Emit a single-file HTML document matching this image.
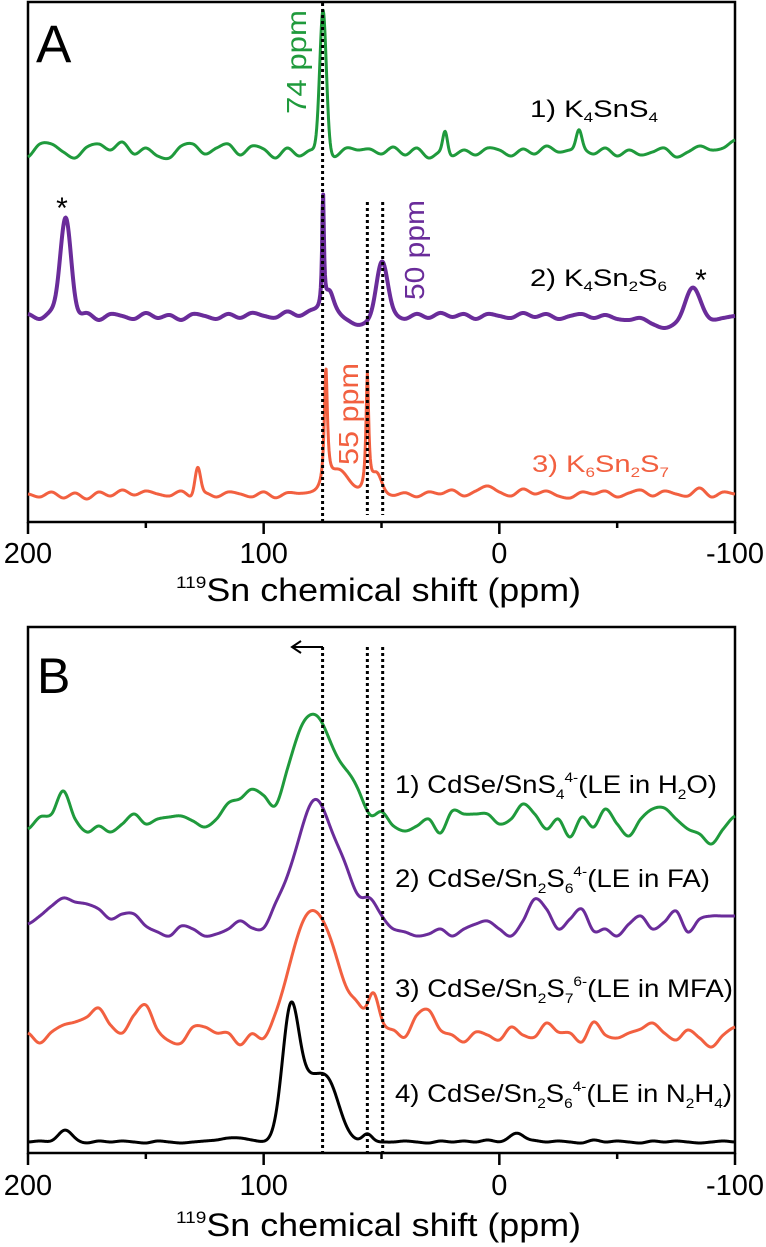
<!DOCTYPE html>
<html><head><meta charset="utf-8"><style>
html,body{margin:0;padding:0;background:#fff;}
svg{display:block;font-family:"Liberation Sans",Arial,sans-serif;}
</style></head><body>
<svg id="fig" width="766" height="1247" viewBox="0 0 766 1247" xmlns="http://www.w3.org/2000/svg">
<g id="panelA">
  <rect x="28" y="2" width="707" height="520" fill="none" stroke="#000" stroke-width="2.5"/>
  <text x="36" y="62" font-size="53">A</text>
  <g id="axisA"></g>
  <text x="176" y="601" font-size="32" textLength="405" lengthAdjust="spacingAndGlyphs"><tspan font-size="17" dy="-13">119</tspan><tspan dy="13">Sn chemical shift (ppm)</tspan></text>
  <g id="tracesA"></g>
  <text x="530" y="117" font-size="24" textLength="128" lengthAdjust="spacingAndGlyphs">1) K<tspan font-size="14" dy="5">4</tspan><tspan dy="-5">SnS</tspan><tspan font-size="14" dy="5">4</tspan></text>
  <text x="530" y="286" font-size="24" textLength="137" lengthAdjust="spacingAndGlyphs">2) K<tspan font-size="14" dy="5">4</tspan><tspan dy="-5">Sn</tspan><tspan font-size="14" dy="5">2</tspan><tspan dy="-5">S</tspan><tspan font-size="14" dy="5">6</tspan></text>
  <text x="532" y="472" font-size="24" fill="#f26040" textLength="137" lengthAdjust="spacingAndGlyphs">3) K<tspan font-size="14" dy="5">6</tspan><tspan dy="-5">Sn</tspan><tspan font-size="14" dy="5">2</tspan><tspan dy="-5">S</tspan><tspan font-size="14" dy="5">7</tspan></text>
  <text transform="translate(306,114) rotate(-90)" font-size="28" fill="#1f9a3c" textLength="104" lengthAdjust="spacingAndGlyphs">74 ppm</text>
  <text transform="translate(424,300) rotate(-90)" font-size="28" fill="#6a2c9a" textLength="100" lengthAdjust="spacingAndGlyphs">50 ppm</text>
  <text transform="translate(358,465) rotate(-90)" font-size="28" fill="#f26040" textLength="102" lengthAdjust="spacingAndGlyphs">55 ppm</text>
  <text x="62" y="218" font-size="30" text-anchor="middle">*</text>
  <text x="701" y="290" font-size="30" text-anchor="middle">*</text>
</g>
<g id="panelB">
  <rect x="28" y="627" width="707" height="526" fill="none" stroke="#000" stroke-width="2.5"/>
  <text x="37" y="693" font-size="50">B</text>
  <g id="axisB"></g>
  <text x="176" y="1236" font-size="32" textLength="405" lengthAdjust="spacingAndGlyphs"><tspan font-size="17" dy="-13">119</tspan><tspan dy="13">Sn chemical shift (ppm)</tspan></text>
  <g id="tracesB"></g>
  <path d="M323 647 H293 M301 641 L292 647 L301 653" fill="none" stroke="#000" stroke-width="2"/>
  <text x="395" y="793" font-size="25" textLength="322" lengthAdjust="spacingAndGlyphs">1) CdSe/SnS<tspan font-size="14" dy="6">4</tspan><tspan font-size="14" dy="-17">4-</tspan><tspan dy="11">(LE in H</tspan><tspan font-size="14" dy="6">2</tspan><tspan dy="-6">O)</tspan></text>
  <text x="395" y="887" font-size="25" textLength="315" lengthAdjust="spacingAndGlyphs">2) CdSe/Sn<tspan font-size="14" dy="6">2</tspan><tspan dy="-6">S</tspan><tspan font-size="14" dy="6">6</tspan><tspan font-size="14" dy="-17">4-</tspan><tspan dy="11">(LE in FA)</tspan></text>
  <text x="395" y="997" font-size="25" textLength="338" lengthAdjust="spacingAndGlyphs">3) CdSe/Sn<tspan font-size="14" dy="6">2</tspan><tspan dy="-6">S</tspan><tspan font-size="14" dy="6">7</tspan><tspan font-size="14" dy="-17">6-</tspan><tspan dy="11">(LE in MFA)</tspan></text>
  <text x="395" y="1102" font-size="25" textLength="337" lengthAdjust="spacingAndGlyphs">4) CdSe/Sn<tspan font-size="14" dy="6">2</tspan><tspan dy="-6">S</tspan><tspan font-size="14" dy="6">6</tspan><tspan font-size="14" dy="-17">4-</tspan><tspan dy="11">(LE in N</tspan><tspan font-size="14" dy="6">2</tspan><tspan dy="-6">H</tspan><tspan font-size="14" dy="6">4</tspan><tspan dy="-6">)</tspan></text>
</g>
</svg>
<script>
// ---- axis data ----
const majorTicks = [200, 100, 0, -100];
const minorTicks = [150, 50, -50];
const tickLabels = ["200", "100", "0", "-100"];
const refLinesA = [75, 56, 49.5];
const refLinesB = [75, 56, 49.5];
// ---- noise baselines, sampled every 5 ppm from 200 to -100 (61 values) ----
const noiseA1 = [-5,8,8,0,-6,5,8,2,10,-2,4,-4,-6,6,8,-2,4,8,-3,6,3,-6,4,-4,2,0,-5,4,2,3,-2,5,-3,4,-6,0,-4,2,-3,4,2,-4,3,-2,6,0,2,3,-2,4,-4,2,-3,0,4,-5,0,6,2,4,12];
const noiseA2 = [2,-3,4,0,-2,3,-4,2,0,-3,3,-2,1,-4,2,0,-3,2,-2,3,0,-2,4,-1,3,0,-2,-6,-10,-6,-2,0,-3,2,-2,3,-1,2,-3,2,0,-2,3,-1,2,-3,0,2,-2,1,-3,-4,-2,-8,-12,-8,-2,0,-4,-2,0];
const noiseA3 = [0,-3,2,-4,1,-5,2,-2,4,-1,3,0,-2,3,-4,1,-3,2,0,-3,2,-4,1,0,0,0,0,0,0,0,0,-2,1,-3,2,0,4,-2,3,8,2,-2,5,0,3,-2,-4,2,0,3,-3,1,4,-2,3,0,-2,6,-3,2,0];
const noiseB1 = [0,12,15,38,10,-3,3,-3,5,15,5,10,12,13,8,2,10,26,30,38,26,0,5,5,0,0,0,0,0,0,15,3,-2,3,10,-4,18,15,15,15,5,10,25,15,0,10,-8,12,2,20,5,-7,10,20,21,10,0,-5,-15,0,13];
const noiseB2 = [0,8,18,26,22,20,15,5,10,10,-2,-8,-12,-2,-5,-12,-10,-5,3,-5,-10,0,0,0,0,0,0,0,0,0,3,-5,-8,-12,-10,-5,-12,-5,0,3,-5,-12,3,25,15,-5,5,15,-7,-5,-12,0,8,-5,2,13,-8,5,8,8,8];
const noiseB3 = [2,-8,3,10,13,18,27,10,2,20,30,5,-6,-8,8,8,2,2,-10,0,-10,-3,0,0,0,0,0,0,0,0,5,5,-2,20,25,5,0,-7,3,0,-5,8,0,-2,12,3,2,-7,13,0,-3,2,6,12,2,-5,5,-3,-12,0,8];
const noiseB4 = [0,1,0,2,0,-1,1,0,1,0,-1,1,0,-1,0,1,2,4,4,2,0,0,0,0,0,0,0,0,0,0,0,0,1,0,-1,1,0,1,0,2,0,1,-1,1,0,1,0,-1,2,0,1,0,-1,1,0,1,0,-1,0,1,0];
// ---- peaks: [center ppm, height, width] ----
const peaksA1 = [[74.8,142,1.4,'g'],[23,22,1.0,'g'],[-33.8,19,1.2,'g']];
const peaksA2 = [[184,99,2.3,'g'],[74.8,112,0.45,'l'],[72,24,2.5,'l'],[49.8,56,2.4,'g'],[-82,29,3.0,'g']];
const peaksA3 = [[73.6,118,0.8,'l'],[68,22,4,'g'],[56,118,0.7,'l'],[52,18,2,'g'],[128,29,1.2,'g']];
const peaksB1 = [[79,115,9,'g'],[62,30,5,'g']];
const peaksB2 = [[77,100,6,'g'],[86,45,7,'g'],[66,45,5,'g'],[55,22,3,'g']];
const peaksB3 = [[81,115,8,'g'],[70,40,6,'g'],[60,18,3,'g'],[53.5,38,2.3,'g']];
const peaksB4 = [[88.5,132,3.6,'g'],[81,40,4,'g'],[73,60,5,'g'],[56,8,2,'g'],[184,10,3,'g'],[-8,9,3,'g']];

const NS = "http://www.w3.org/2000/svg";
const X0 = 28, X1 = 735;
function xScale(p){ return X0 + (200 - p) * (X1 - X0) / 300; }
function noiseAt(arr, p){
  const t = (200 - p) / 5; let i = Math.floor(t); if (i >= arr.length - 1) i = arr.length - 2;
  const f = t - i;
  const p0 = arr[Math.max(i-1,0)], p1 = arr[i], p2 = arr[i+1], p3 = arr[Math.min(i+2,arr.length-1)];
  return 0.5*((2*p1)+(-p0+p2)*f+(2*p0-5*p1+4*p2-p3)*f*f+(-p0+3*p1-3*p2+p3)*f*f*f);
}
function signal(peaks, noise, p){
  let v = noiseAt(noise, p);
  for (const pk of peaks){
    const d = (p - pk[0]) / pk[2];
    v += pk[3] === 'l' ? pk[1] / (1 + d*d) : pk[1] * Math.exp(-0.5*d*d);
  }
  return v;
}
function addTrace(group, peaks, noise, base, color, width, name){
  let d = "";
  for (let p = 200; p >= -100.001; p -= 0.25){
    const y = base - signal(peaks, noise, p);
    d += (d ? "L" : "M") + xScale(p).toFixed(2) + " " + y.toFixed(2);
  }
  const path = document.createElementNS(NS, "path");
  path.setAttribute("d", d);
  path.setAttribute("fill", "none");
  path.setAttribute("stroke", color);
  path.setAttribute("stroke-width", width);
  path.setAttribute("stroke-linejoin", "round");
  
  
  group.appendChild(path);
}
function addAxis(group, yAxis, labelY){
  majorTicks.forEach((t, i) => {
    const l = document.createElementNS(NS, "line");
    l.setAttribute("x1", xScale(t)); l.setAttribute("x2", xScale(t));
    l.setAttribute("y1", yAxis); l.setAttribute("y2", yAxis + 12);
    l.setAttribute("stroke", "#000"); l.setAttribute("stroke-width", "2.5");
    
    
    group.appendChild(l);
    const tx = document.createElementNS(NS, "text");
    tx.setAttribute("x", xScale(t)); tx.setAttribute("y", labelY);
    tx.setAttribute("font-size", "29"); tx.setAttribute("text-anchor", "middle");
    tx.textContent = tickLabels[i];
    
    
    group.appendChild(tx);
  });
  minorTicks.forEach(t => {
    const l = document.createElementNS(NS, "line");
    l.setAttribute("x1", xScale(t)); l.setAttribute("x2", xScale(t));
    l.setAttribute("y1", yAxis); l.setAttribute("y2", yAxis + 6);
    l.setAttribute("stroke", "#000"); l.setAttribute("stroke-width", "2.5");
    
    
    group.appendChild(l);
  });
}
function addRef(group, p, y1, y2){
  const l = document.createElementNS(NS, "line");
  l.setAttribute("x1", xScale(p)); l.setAttribute("x2", xScale(p));
  l.setAttribute("y1", y1); l.setAttribute("y2", y2);
  l.setAttribute("stroke", "#000"); l.setAttribute("stroke-width", "3");
  l.setAttribute("stroke-dasharray", "3 3");
  
  
  group.appendChild(l);
}
const gA = document.getElementById("tracesA");
const gB = document.getElementById("tracesB");
addAxis(document.getElementById("axisA"), 522, 563);
addAxis(document.getElementById("axisB"), 1153, 1195);
addTrace(gA, peaksA1, noiseA1, 152, "#1f9a3c", 3, "trace-k4sns4");
addTrace(gA, peaksA2, noiseA2, 316, "#6a2c9a", 4, "trace-k4sn2s6");
addTrace(gA, peaksA3, noiseA3, 494, "#f26040", 3, "trace-k6sn2s7");
addRef(gA, refLinesA[0], 3, 522);
addRef(gA, refLinesA[1], 202, 515);
addRef(gA, refLinesA[2], 202, 515);
addTrace(gB, peaksB1, noiseB1, 829, "#1f9a3c", 3, "trace-b1-h2o");
addTrace(gB, peaksB2, noiseB2, 924, "#6a2c9a", 3, "trace-b2-fa");
addTrace(gB, peaksB3, noiseB3, 1035, "#f26040", 3, "trace-b3-mfa");
addTrace(gB, peaksB4, noiseB4, 1142, "#000000", 3, "trace-b4-n2h4");
addRef(gB, refLinesB[0], 647, 1153);
addRef(gB, refLinesB[1], 647, 1153);
addRef(gB, refLinesB[2], 647, 1153);
</script>
</body></html>
